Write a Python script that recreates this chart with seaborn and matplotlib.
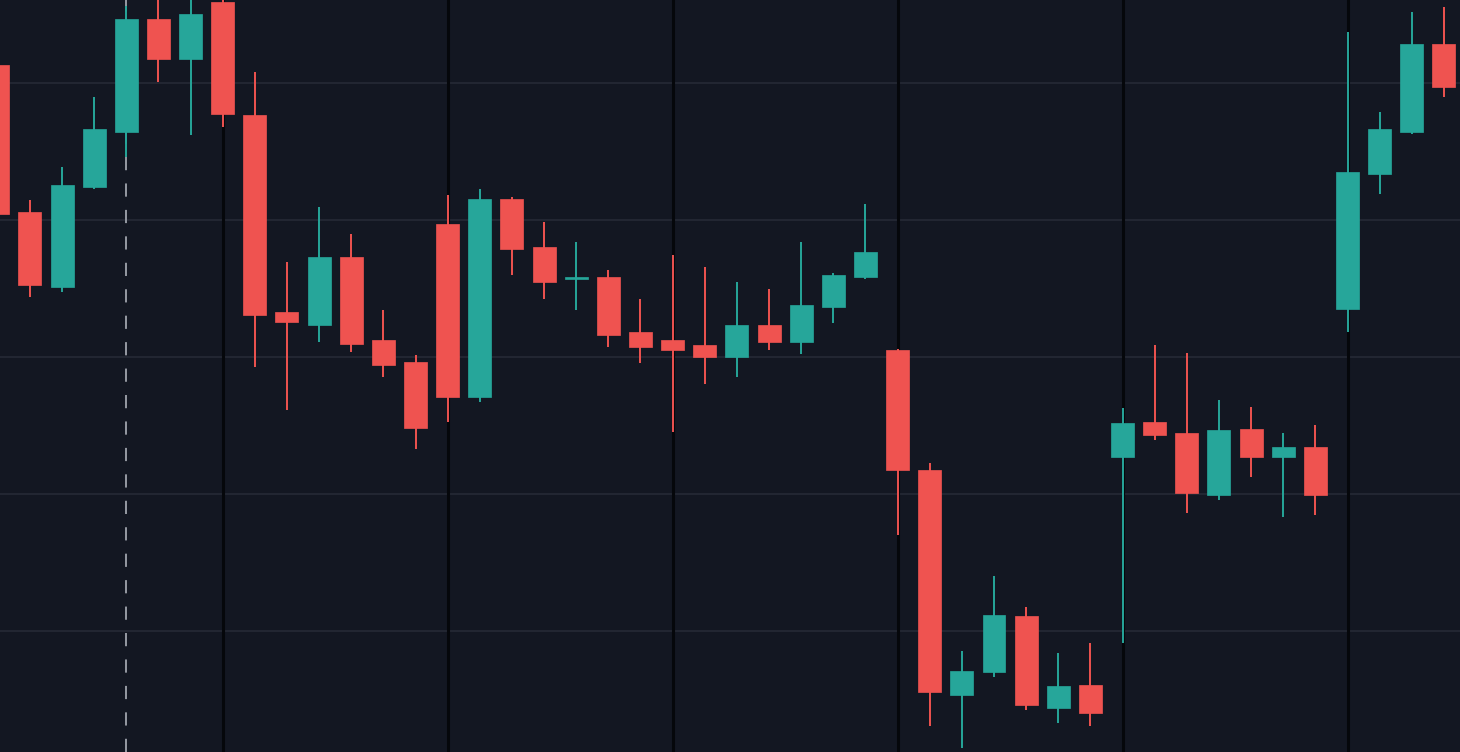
import numpy as np
import pandas as pd
import matplotlib
matplotlib.use("Agg")
import matplotlib.pyplot as plt
import seaborn as sns

# OHLC values (one entry per candle, left to right)
opens = [141.31, 130.58, 125.11, 132.41, 136.42, 144.67, 141.75, 145.91, 137.66, 123.28,
         122.34, 127.30, 121.24, 119.64, 129.71, 117.08, 131.53, 128.03, 125.69, 125.84,
         121.82, 121.24, 120.88, 120.00, 122.34, 121.09, 123.65, 125.84, 120.51, 111.75,
         95.33, 97.01, 101.09, 94.38, 96.06, 112.70, 115.26, 114.45, 109.93, 114.74,
         112.70, 113.43, 123.50, 133.36, 136.42, 142.85]
highs = [141.82, 131.46, 133.87, 138.98, 145.62, 146.50, 146.50, 146.50, 140.80, 126.93,
         130.95, 128.98, 123.43, 120.15, 131.82, 132.26, 131.68, 129.85, 128.39, 126.35,
         124.23, 127.45, 126.57, 125.47, 124.96, 128.39, 126.10, 131.17, 120.60, 112.26,
         98.54, 104.01, 101.75, 98.39, 99.12, 116.28, 120.88, 120.29, 116.86, 116.35,
         114.45, 115.04, 143.72, 137.88, 145.18, 145.55]
lows = [130.15, 124.38, 124.74, 132.30, 134.60, 140.07, 136.20, 136.79, 119.27, 116.13,
        121.09, 120.36, 118.54, 113.28, 115.26, 116.72, 125.99, 124.23, 123.43, 120.73,
        119.56, 114.53, 118.03, 118.54, 120.51, 120.22, 122.48, 125.70, 107.01, 93.07,
        91.46, 96.64, 94.23, 93.28, 93.07, 99.12, 113.94, 108.61, 109.56, 111.24,
        108.32, 108.47, 121.82, 131.90, 136.30, 138.98]
closes = [130.44, 125.26, 132.55, 136.64, 144.67, 141.75, 145.04, 137.74, 123.07, 122.55,
          127.30, 120.95, 119.42, 114.82, 117.08, 131.53, 127.88, 125.47, 125.84, 121.61,
          120.73, 120.51, 120.00, 122.34, 121.09, 123.80, 125.99, 127.66, 111.75, 95.55,
          97.08, 101.17, 94.60, 95.99, 94.01, 115.18, 114.31, 110.07, 114.67, 112.70,
          113.43, 109.93, 133.50, 136.64, 142.85, 139.71]

session_marks = [7, 14, 21, 28, 35, 42]
cursor_index = 4
price_levels = [100, 110, 120, 130, 140]

df = pd.DataFrame({"open": opens, "high": highs, "low": lows, "close": closes})
df["idx"] = np.arange(len(df))
df["up"] = df["close"] >= df["open"]

bg = "#131722"
up_color = "#26a69a"
down_color = "#ef5350"

sns.set_theme(style="dark", rc={"axes.facecolor": bg, "figure.facecolor": bg})

fig = plt.figure(figsize=(14.6, 7.52), dpi=100)
ax = fig.add_axes([0, 0, 1, 1])
ax.set_facecolor(bg)

# faint horizontal price grid
for p in price_levels:
    ax.axhline(p, color="#222632", lw=1.5, zorder=1)

# dark session separators
for s in session_marks:
    ax.axvline(s, color="#05070b", lw=2.2, zorder=2)

# crosshair-style dashed line
ax.axvline(cursor_index, color="#969aa3", lw=1.4, linestyle=(0, (6.8, 6.8)), zorder=2)

colors = np.where(df["up"], up_color, down_color)

# wicks
ax.vlines(df["idx"], df["low"], df["high"], colors=colors, lw=1.4, zorder=3)

# bodies
body_bottom = np.minimum(df["open"], df["close"])
body_height = np.maximum(np.abs(df["close"] - df["open"]), 0.15)
ax.bar(df["idx"], body_height, bottom=body_bottom, width=0.715,
       color=colors, edgecolor=colors, linewidth=0.5, zorder=4)

ax.set_xlim(0.07, 45.5)
ax.set_ylim(91.17, 146.06)
ax.set_xticks([])
ax.set_yticks([])
for sp in ax.spines.values():
    sp.set_visible(False)
ax.grid(False)

fig.savefig("out.png", dpi=100, facecolor=bg)
